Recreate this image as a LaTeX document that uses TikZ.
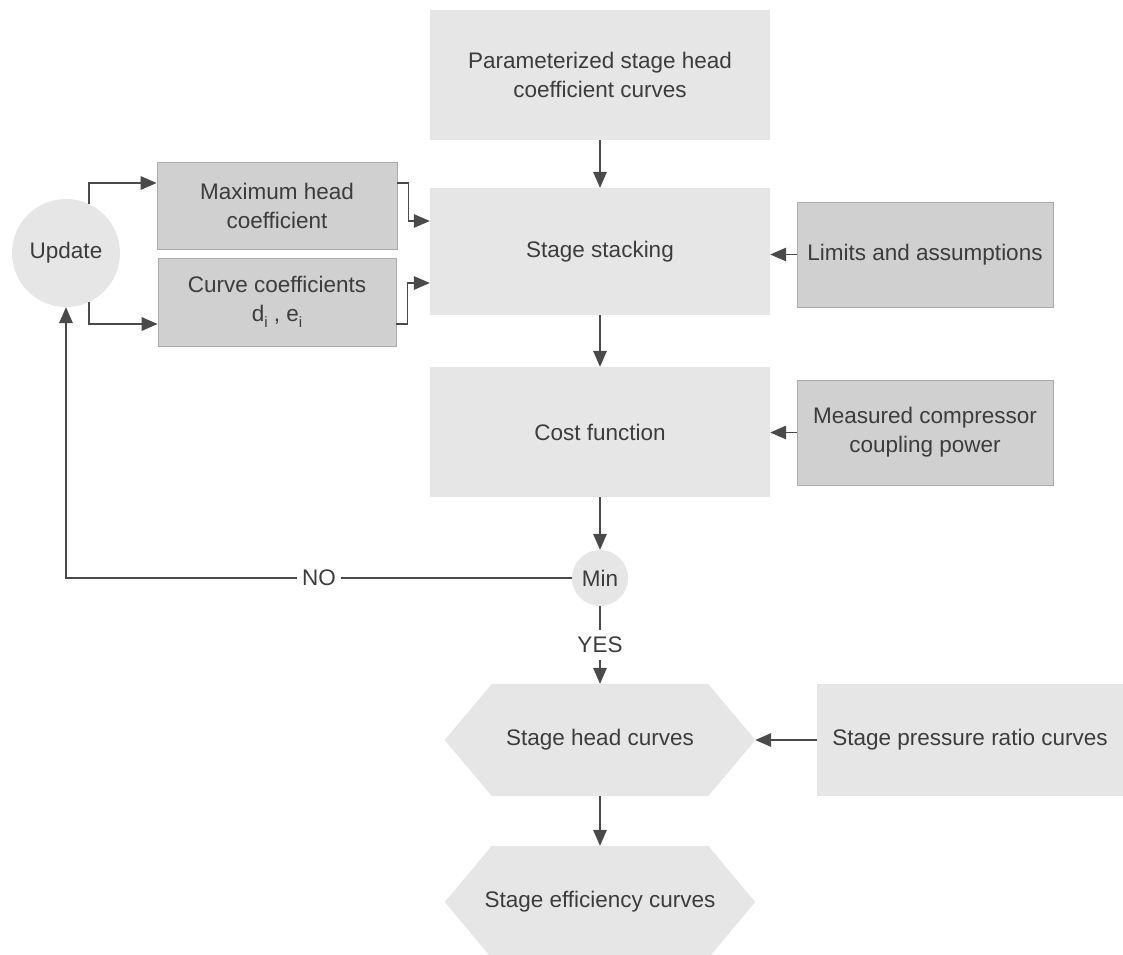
\documentclass[tikz,border=0pt]{standalone}
\usepackage{fontspec}
\setmainfont{Liberation Sans}
\usetikzlibrary{arrows.meta,backgrounds,calc}

\definecolor{lightg}{HTML}{E6E6E6}
\definecolor{darkg}{HTML}{D0D0D0}
\definecolor{bordg}{HTML}{ABABAB}
\definecolor{lineg}{HTML}{4A4A4A}
\definecolor{txtg}{HTML}{3C3C3C}

\newcommand{\lowsub}[1]{\raisebox{-0.45ex}{\fontsize{15}{15}\selectfont #1}}

\begin{document}
\begin{tikzpicture}[x=1pt,y=-1pt,
  every node/.style={text=txtg, font=\fontsize{22.5}{29}\selectfont, align=center, inner sep=0pt},
  lightbox/.style={rectangle, fill=lightg, draw=none},
  darkbox/.style={rectangle, fill=darkg, draw=bordg, line width=0.8pt},
  roundnode/.style={circle, fill=lightg, draw=none},
  hexnode/.style={rectangle, draw=none, minimum width=310pt, minimum height=112pt},
  arr/.style={draw=lineg, line width=1.5pt, -{Triangle[length=16pt,width=13.5pt]}},
  lbl/.style={fill=white, inner xsep=5pt, inner ysep=7pt}
]
\useasboundingbox (0,0) rectangle (1123,954);

% main column
\node[lightbox, minimum width=340pt, minimum height=130pt] (top) at (600,75)
  {Parameterized stage head\\coefficient curves};
\node[lightbox, minimum width=340pt, minimum height=127pt] (stack) at (600,251.5)
  {Stage stacking};
\node[lightbox, minimum width=340pt, minimum height=130pt] (cost) at (600,432)
  {Cost function};
\node[roundnode, minimum size=56pt] (min) at (600,578) {Min};

% inputs on the right
\node[darkbox, minimum width=256pt, minimum height=105pt] (lim) at (925,254.5)
  {Limits and assumptions};
\node[darkbox, minimum width=256pt, minimum height=105pt] (meas) at (925,432.5)
  {Measured compressor\\coupling power};

% update loop on the left
\node[roundnode, minimum size=108pt] (update) at (66,253) {Update};
\node[darkbox, minimum width=240pt, minimum height=87pt] (maxh) at (277,205.5)
  {Maximum head\\coefficient};
\node[darkbox, minimum width=238pt, minimum height=88pt] (curve) at (277,302)
  {Curve coefficients\\d\lowsub{i} , e\lowsub{i}};

% result hexagons
\node[hexnode] (head) at (600,740) {Stage head curves};
\node[hexnode] (eff) at (600,902) {Stage efficiency curves};
\node[lightbox, minimum width=306pt, minimum height=112pt] (press) at (970,740)
  {Stage pressure ratio curves};

\begin{scope}[on background layer]
  \foreach \h in {head,eff}{
    \fill[lightg] (\h.west) -- ([xshift=47pt]\h.north west) -- ([xshift=-47pt]\h.north east)
      -- (\h.east) -- ([xshift=-47pt]\h.south east) -- ([xshift=47pt]\h.south west) -- cycle;
  }
\end{scope}

% connectors
\draw[arr] (top) -- (stack);
\draw[arr] (stack) -- (cost);
\draw[arr] (cost) -- (min);
\draw[arr] (lim.west) -- (stack.east |- lim.west);
\draw[arr] (meas.west) -- (cost.east |- meas.west);

\draw[arr] (update.65) |- ([yshift=22.5pt]maxh.west);
\draw[arr] (update.-65) |- ([yshift=-22pt]curve.west);
\draw[arr] ([yshift=22.5pt]maxh.east) -- ++(11,0) |- ([yshift=30.5pt]stack.west);
\draw[arr] ([yshift=-22pt]curve.east) -- ++(11,0) |- ([yshift=-31.5pt]stack.west);

\draw[arr] (min.west) -| node[lbl, pos=0.25] {NO} (update.south);
\draw[arr] (min.south) -- node[lbl] {YES} (head.north);

\draw[arr] (press.west) -- (head.east);
\draw[arr] (head.south) -- (eff.north);
\end{tikzpicture}
\end{document}
